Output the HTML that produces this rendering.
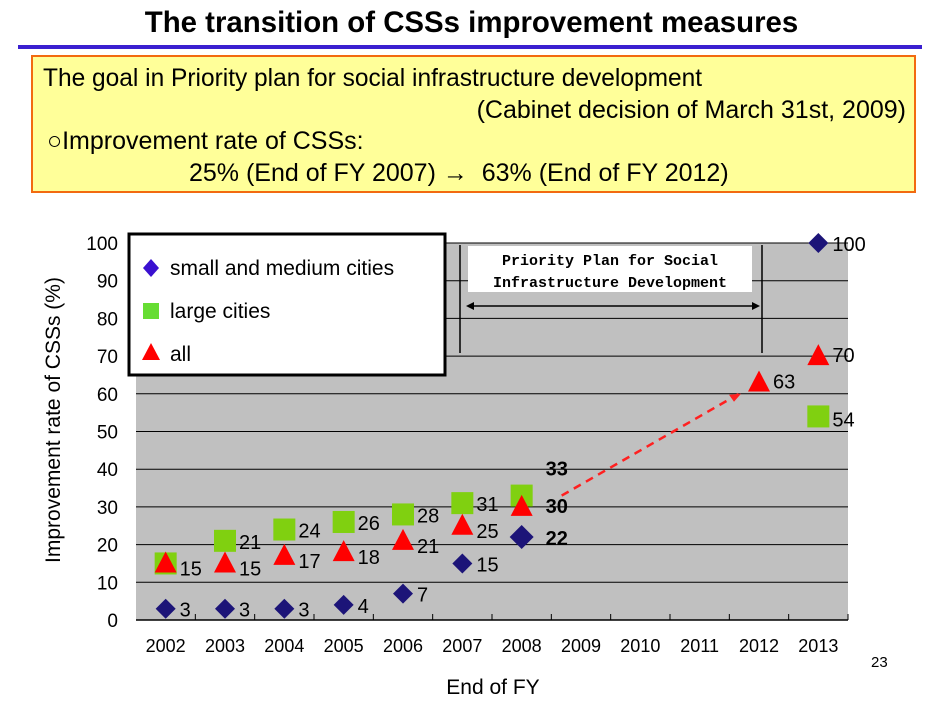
<!DOCTYPE html>
<html><head><meta charset="utf-8"><style>
body{margin:0;width:943px;height:718px;background:#fff;font-family:"Liberation Sans",sans-serif;overflow:hidden;position:relative}
.abs{position:absolute}
</style></head><body>
<div class="abs" style="left:0;width:943px;top:6px;text-align:center;font-weight:bold;font-size:30px;color:#000;transform:scaleX(0.98)">The transition of CSSs improvement measures</div>
<div class="abs" style="left:18px;top:45px;width:904px;height:4px;background:#3a1fd0"></div>
<div class="abs" style="left:31px;top:55px;width:881px;height:134px;background:#ffff99;border:2px solid #f26a10;font-size:25px;line-height:32px">
<div style="position:absolute;left:10px;top:5px;transform-origin:left;transform:scaleX(0.98)">The goal in Priority plan for social infrastructure development</div>
<div style="position:absolute;right:8px;top:37px">(Cabinet decision of March 31st, 2009)</div>
<div style="position:absolute;left:14px;top:68px">○Improvement rate of CSSs:</div>
<div style="position:absolute;left:156px;top:100px">25% (End of FY 2007) → &nbsp;63% (End of FY 2012)</div>
</div>
<svg class="abs" style="left:0;top:0" width="943" height="718" id="chart"></svg>
<script>
const years=["2002","2003","2004","2005","2006","2007","2008","2009","2010","2011","2012","2013"];
const smallVals=[3,3,3,4,7,15,22,null,null,null,null,100];
const largeVals=[15,21,24,26,28,31,33,null,null,null,null,54];
const allVals=[15,15,17,18,21,25,30,null,null,null,63,70];
const yTicks=[0,10,20,30,40,50,60,70,80,90,100];
const NS="http://www.w3.org/2000/svg";
const svg=document.getElementById('chart');
const L=136,R=848,T=243,B=620;
const bw=(R-L)/years.length;
function x(i){return L+bw*(i+0.5);}
function y(v){return B-(v/100)*(B-T);}
function mk(tag,a,parent){const e=document.createElementNS(NS,tag);for(const k in a)e.setAttribute(k,a[k]);(parent||svg).appendChild(e);return e;}
let e=mk('rect',{x:L,y:T,width:R-L,height:B-T,fill:'#c0c0c0'});

yTicks.forEach(v=>{
 if(v>0){let g=mk('line',{x1:L,x2:R,y1:y(v),y2:y(v),stroke:'#000','stroke-width':1});
 }
 let t=mk('text',{x:118,y:y(v)+7,'text-anchor':'end','font-size':19});t.textContent=v;
 
});
e=mk('line',{x1:L,x2:R,y1:B,y2:B,stroke:'#000','stroke-width':1.5});

years.forEach((yr,i)=>{
 let tk=mk('line',{x1:L+bw*(i+1),x2:L+bw*(i+1),y1:B,y2:B-6,stroke:'#000'});
 
 let t=mk('text',{x:x(i),y:652,'text-anchor':'middle','font-size':18});t.textContent=yr;
 
});
[460,762].forEach(px=>{let l=mk('line',{x1:px,x2:px,y1:245,y2:353,stroke:'#000','stroke-width':1.5});
 });
e=mk('rect',{x:468,y:246,width:284,height:46,fill:'#fff'});

e=mk('text',{x:610,y:265,'text-anchor':'middle','font-size':15,'font-family':'Liberation Mono,monospace','font-weight':'bold'});e.textContent='Priority Plan for Social';

e=mk('text',{x:610,y:287,'text-anchor':'middle','font-size':15,'font-family':'Liberation Mono,monospace','font-weight':'bold'});e.textContent='Infrastructure Development';

e=mk('line',{x1:468,x2:756,y1:306,y2:306,stroke:'#000','stroke-width':1.5});

mk('path',{d:'M466,306 l8,-4 v8z M760,306 l-8,-4 v8z',fill:'#000'});
e=mk('line',{x1:x(6)+40,y1:y(33),x2:x(10)-20,y2:y(60),stroke:'#ff2020','stroke-width':2.5,'stroke-dasharray':'8,6'});

mk('path',{d:`M${x(10)-18},${y(60)} l-12,1 l5,7z`,fill:'#ff2020'});
function label(px,py,txt,bold){let t=mk('text',{x:px,y:py,'font-size':20,'font-weight':bold?'bold':'normal'});t.textContent=txt;
 }
largeVals.forEach((v,i)=>{if(v==null)return;
 let s=mk('rect',{x:x(i)-11,y:y(v)-11,width:22,height:22,fill:'#80d010'});
 
 if(i==6)label(x(i)+24,y(v)-20,v,true);else if(i>0)label(x(i)+14,y(v)+(i==11?10:8),v);});
allVals.forEach((v,i)=>{if(v==null)return;const cx=x(i),cy=y(v);
 let p=mk('path',{d:`M${cx},${cy-12} L${cx+11},${cy+9} L${cx-11},${cy+9}Z`,fill:'#ff0000'});
 
 if(i==6)label(cx+24,cy+6,v,true);else label(cx+14,cy+(i>=10?6:12),v);});
smallVals.forEach((v,i)=>{if(v==null)return;const cx=x(i),cy=y(v);
 const r=i==6?12:10;
 let p=mk('path',{d:`M${cx},${cy-r} L${cx+r},${cy} L${cx},${cy+r} L${cx-r},${cy}Z`,fill:'#1c1478'});
 
 if(i==6)label(cx+24,cy+8,v,true);else label(cx+14,cy+8,v);});
e=mk('rect',{x:129,y:234,width:316,height:141,fill:'#fff',stroke:'#000','stroke-width':3});

mk('path',{d:'M151,259 l8,9 l-8,9 l-8,-9z',fill:'#3a10d0'});
mk('rect',{x:143,y:303,width:16,height:16,fill:'#66dd33'});
mk('path',{d:'M151,343 l9,17 h-18z',fill:'#ff0000'});
[['small and medium cities',275],['large cities',318],['all',361]].forEach(([t,yy])=>{
 let tx=mk('text',{x:170,y:yy,'font-size':21});tx.textContent=t;
 });
e=mk('text',{x:0,y:0,'font-size':21,'text-anchor':'middle',transform:'translate(60,420) rotate(-90)'});e.textContent='Improvement rate of CSSs (%)';

e=mk('text',{x:493,y:694,'font-size':21,'text-anchor':'middle'});e.textContent='End of FY';

e=mk('text',{x:871,y:667,'font-size':15});e.textContent='23';

</script>
</body></html>
